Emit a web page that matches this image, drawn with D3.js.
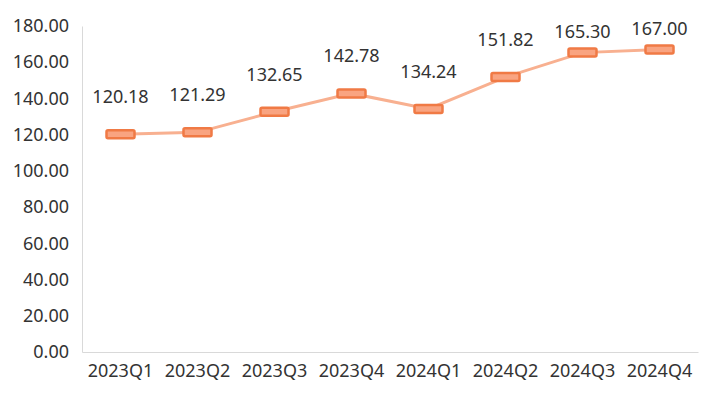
<!DOCTYPE html>
<html>
<head>
<meta charset="utf-8">
<script src="https://cdn.jsdelivr.net/npm/d3@7"></script>
<style>
  body { margin: 0; background: #fff; }
  svg text { font-family: "Noto Sans", "DejaVu Sans", sans-serif; }
</style>
</head>
<body>
<div id="chart"></div>
<script>
const categories = ['2023Q1', '2023Q2', '2023Q3', '2023Q4', '2024Q1', '2024Q2', '2024Q3', '2024Q4'];
const values = [120.18, 121.29, 132.65, 142.78, 134.24, 151.82, 165.30, 167.00];
const yTicks = [0, 20, 40, 60, 80, 100, 120, 140, 160, 180];

const width = 717, height = 399;
const margin = { top: 26, right: 19, bottom: 47, left: 82 };
const innerW = width - margin.left - margin.right;
const innerH = height - margin.top - margin.bottom;

const svg = d3.select('#chart')
  .append('svg')
  .attr('width', width)
  .attr('height', height);

const g = svg.append('g')
  .attr('transform', `translate(${margin.left},${margin.top})`);

const xScale = d3.scaleBand()
  .domain(categories)
  .range([0, innerW]);

const yScale = d3.scaleLinear()
  .domain([0, 180])
  .range([innerH, 0]);

const cx = d => xScale(d) + xScale.bandwidth() / 2;

// Y axis
const yAxis = g.append('g')
  .call(d3.axisLeft(yScale).tickValues(yTicks).tickFormat(d3.format('.2f')).tickSize(0).tickPadding(13));
yAxis.select('.domain').attr('stroke', '#d9d9d9');
yAxis.selectAll('text')
  .style('font-size', '18px')
  .attr('fill', '#333');

// X axis
const xAxis = g.append('g')
  .attr('transform', `translate(0,${innerH})`)
  .call(d3.axisBottom(xScale).tickSize(0).tickPadding(12));
xAxis.select('.domain').attr('stroke', '#d9d9d9');
xAxis.selectAll('text')
  .style('font-size', '18px')
  .attr('fill', '#333');

// Line
const line = d3.line()
  .x((d, i) => cx(categories[i]))
  .y(d => yScale(d));

g.append('path')
  .datum(values)
  .attr('fill', 'none')
  .attr('stroke', '#f8b090')
  .attr('stroke-width', 3)
  .attr('d', line);

// Markers
const mw = 28, mh = 8;
g.selectAll('.marker')
  .data(values)
  .enter()
  .append('rect')
  .attr('class', 'marker')
  .attr('x', (d, i) => cx(categories[i]) - mw / 2)
  .attr('y', d => yScale(d) - mh / 2)
  .attr('width', mw)
  .attr('height', mh)
  .attr('rx', 1.5)
  .attr('fill', '#f9a481')
  .attr('stroke', '#f07a45')
  .attr('stroke-width', 2.5);

// Data labels: above the point, pulled closer when they would leave the top
g.selectAll('.label')
  .data(values)
  .enter()
  .append('text')
  .attr('class', 'label')
  .attr('x', (d, i) => cx(categories[i]))
  .attr('y', d => {
    const py = yScale(d);
    return (py - 31 - 13 < -6) ? py - 15 : py - 31;
  })
  .attr('text-anchor', 'middle')
  .style('font-size', '18px')
  .attr('fill', '#333')
  .text(d => d.toFixed(2));
</script>
</body>
</html>
